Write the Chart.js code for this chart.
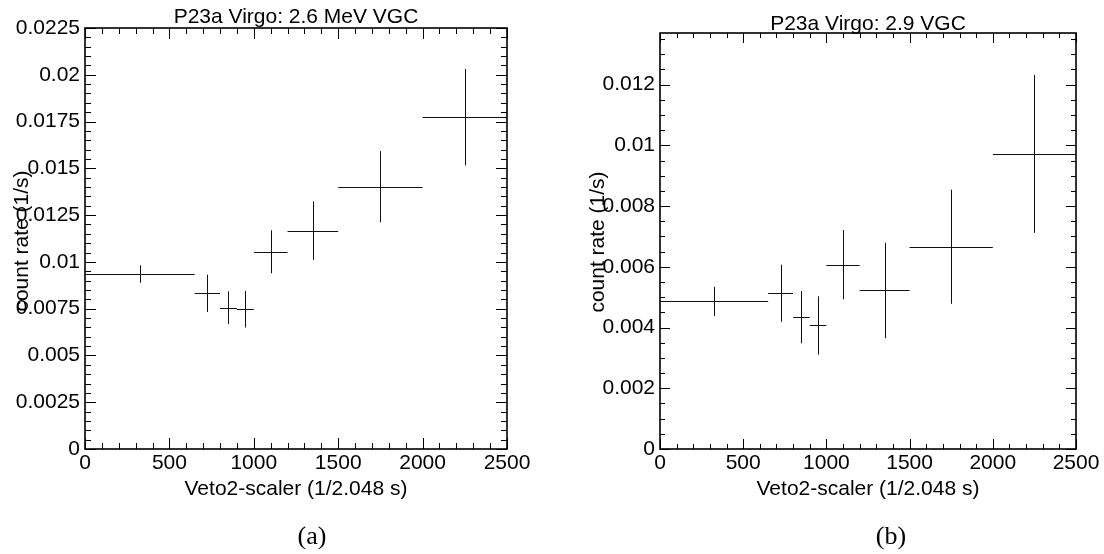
<!DOCTYPE html>
<html>
<head>
<meta charset="utf-8">
<script src="https://cdn.jsdelivr.net/npm/chart.js@4.4.1/dist/chart.umd.min.js"></script>
<style>
    body { margin: 0; background: #fff; width: 1104px; height: 554px; overflow: hidden; position: relative; }
    canvas { position: absolute; top: 0; }
    #chartA { left: 0; }
    #chartB { left: 552px; }
    .caption {
        position: absolute; top: 523px; width: 80px; text-align: center;
        font-family: "Liberation Serif", "Times New Roman", serif; font-size: 26px; line-height: 26px; color: #000;
    }
</style>
</head>
<body>
<canvas id="chartA" width="552" height="554"></canvas>
<canvas id="chartB" width="552" height="554"></canvas>
<div class="caption" style="left:272px">(a)</div>
<div class="caption" style="left:851px">(b)</div>
<script>
// Veto2-scaler bins (edges and centres)
const binEdges = [0, 650, 800, 900, 1000, 1200, 1500, 2000, 2500];
const binCenters = [325, 725, 850, 950, 1100, 1350, 1750, 2250];

// (a) 2.6 MeV line count rate and errors
const rateA = [0.00935, 0.00832, 0.00755, 0.00747, 0.01054, 0.01167, 0.01402, 0.01773];
const errA = [0.00047, 0.00100, 0.00088, 0.00098, 0.00115, 0.00157, 0.00190, 0.00258];

// (b) 2.9 VGC count rate and errors
const rateB = [0.00486, 0.00513, 0.00434, 0.00407, 0.00607, 0.00522, 0.00666, 0.00972];
const errB = [0.00048, 0.00094, 0.00086, 0.00096, 0.00114, 0.00157, 0.00188, 0.00260];

// tick labels
const xTickLabels = ['0', '500', '1000', '1500', '2000', '2500'];
const yTickLabelsA = ['0', '0.0025', '0.005', '0.0075', '0.01', '0.0125', '0.015', '0.0175', '0.02', '0.0225'];
const yTickLabelsB = ['0', '0.002', '0.004', '0.006', '0.008', '0.01', '0.012'];

const FONT = '"Liberation Sans", Arial, Helvetica, sans-serif';
const FONT_SIZE = 21;

function buildPoints(rates, errs) {
    return rates.map((r, i) => ({
        x: binCenters[i], y: r, err: errs[i], xlo: binEdges[i], xhi: binEdges[i + 1]
    }));
}

// Draw the error crosses with the chart's own scales
const crossPlugin = {
    id: 'crosses',
    afterDatasetsDraw(chart) {
        const { ctx, scales: { x, y } } = chart;
        ctx.save();
        ctx.strokeStyle = '#111';
        ctx.lineWidth = 1;
        chart.data.datasets[0].data.forEach(p => {
            const px = Math.round(x.getPixelForValue(p.x)) + 0.5;
            const py = Math.round(y.getPixelForValue(p.y)) + 0.5;
            ctx.beginPath();
            ctx.moveTo(x.getPixelForValue(p.xlo), py);
            ctx.lineTo(x.getPixelForValue(p.xhi), py);
            ctx.moveTo(px, y.getPixelForValue(p.y - p.err));
            ctx.lineTo(px, y.getPixelForValue(p.y + p.err));
            ctx.stroke();
        });
        ctx.restore();
    }
};

// ROOT style frame: box, inward ticks on all four sides, titles
const framePlugin = {
    id: 'rootFrame',
    afterDraw(chart, args, opts) {
        const { ctx, chartArea: a, scales: { x, y } } = chart;
        ctx.save();
        ctx.strokeStyle = '#000';
        ctx.lineWidth = 1;
        ctx.beginPath();
        // x ticks (bottom and top)
        for (let v = x.min; v <= x.max + 1e-9; v += opts.xMinor) {
            const major = Math.abs(v / opts.xMajor - Math.round(v / opts.xMajor)) < 1e-6;
            const len = major ? opts.majorLen : opts.minorLen;
            const px = Math.round(x.getPixelForValue(v)) + 0.5;
            ctx.moveTo(px, a.bottom); ctx.lineTo(px, a.bottom - len);
            ctx.moveTo(px, a.top); ctx.lineTo(px, a.top + len);
        }
        // y ticks (left and right)
        for (let i = 0; ; i++) {
            const v = y.min + i * opts.yMinor;
            if (v > y.max + 1e-9) break;
            const major = Math.abs(v / opts.yMajor - Math.round(v / opts.yMajor)) < 1e-6;
            const len = major ? opts.majorLen : opts.minorLen;
            const py = Math.round(y.getPixelForValue(v)) + 0.5;
            ctx.moveTo(a.left, py); ctx.lineTo(a.left + len, py);
            ctx.moveTo(a.right, py); ctx.lineTo(a.right - len, py);
        }
        ctx.stroke();
        ctx.lineWidth = 1.6;
        ctx.strokeRect(a.left, a.top, a.right - a.left, a.bottom - a.top);

        // texts
        ctx.fillStyle = '#000';
        ctx.font = FONT_SIZE + 'px ' + FONT;
        ctx.textAlign = 'center';
        ctx.textBaseline = 'alphabetic';
        const cx = (a.left + a.right) / 2;
        ctx.fillText(opts.title, cx, opts.titleY);
        ctx.fillText(opts.xTitle, cx, opts.xTitleY);
        ctx.translate(opts.yTitleX, opts.yTitleMid);
        ctx.rotate(-Math.PI / 2);
        ctx.fillText(opts.yTitle, 0, 0);
        ctx.restore();
    }
};

function makeChart(id, rates, errs, yMax, yStep, yLabels, yMinor, frame, pad, yWidth) {
    return new Chart(document.getElementById(id), {
        type: 'scatter',
        data: {
            datasets: [{
                data: buildPoints(rates, errs),
                pointRadius: 0,
                showLine: false
            }]
        },
        options: {
            responsive: false,
            animation: false,
            events: [],
            layout: { padding: pad },
            plugins: {
                legend: { display: false },
                tooltip: { enabled: false },
                rootFrame: Object.assign({ xMajor: 500, xMinor: 100, yMajor: yStep, yMinor: yMinor }, frame)
            },
            scales: {
                x: {
                    type: 'linear', min: 0, max: 2500,
                    grid: { display: false, drawTicks: false },
                    border: { display: false },
                    ticks: {
                        stepSize: 500, autoSkip: false, maxRotation: 0, padding: 2, color: '#000',
                        font: { family: FONT, size: FONT_SIZE },
                        callback: (v, i) => xTickLabels[i]
                    },
                    afterFit(s) { s.height = 105; s.paddingLeft = 0; s.paddingRight = 0; }
                },
                y: {
                    type: 'linear', min: 0, max: yMax,
                    grid: { display: false, drawTicks: false },
                    border: { display: false },
                    ticks: {
                        stepSize: yStep, includeBounds: false, autoSkip: false, padding: 5, color: '#000',
                        font: { family: FONT, size: FONT_SIZE },
                        callback: (v, i) => yLabels[i]
                    },
                    afterFit(s) { s.width = yWidth; s.paddingTop = 0; s.paddingBottom = 0; }
                }
            }
        },
        plugins: [crossPlugin, framePlugin]
    });
}

makeChart('chartA', rateA, errA, 0.0225, 0.0025, yTickLabelsA, 0.0005, {
    majorLen: 11, minorLen: 6,
    title: 'P23a Virgo: 2.6 MeV VGC', titleY: 23,
    xTitle: 'Veto2-scaler (1/2.048 s)', xTitleY: 495,
    yTitle: 'count rate (1/s)', yTitleX: 28, yTitleMid: 241
}, { left: 0, top: 28, right: 45, bottom: 0 }, 85);

makeChart('chartB', rateB, errB, 0.0137, 0.002, yTickLabelsB, 0.0005, {
    majorLen: 10, minorLen: 5,
    title: 'P23a Virgo: 2.9 VGC', titleY: 30,
    xTitle: 'Veto2-scaler (1/2.048 s)', xTitleY: 495,
    yTitle: 'count rate (1/s)', yTitleX: 52, yTitleMid: 242
}, { left: 0, top: 33, right: 28, bottom: 0 }, 108);
</script>
</body>
</html>
